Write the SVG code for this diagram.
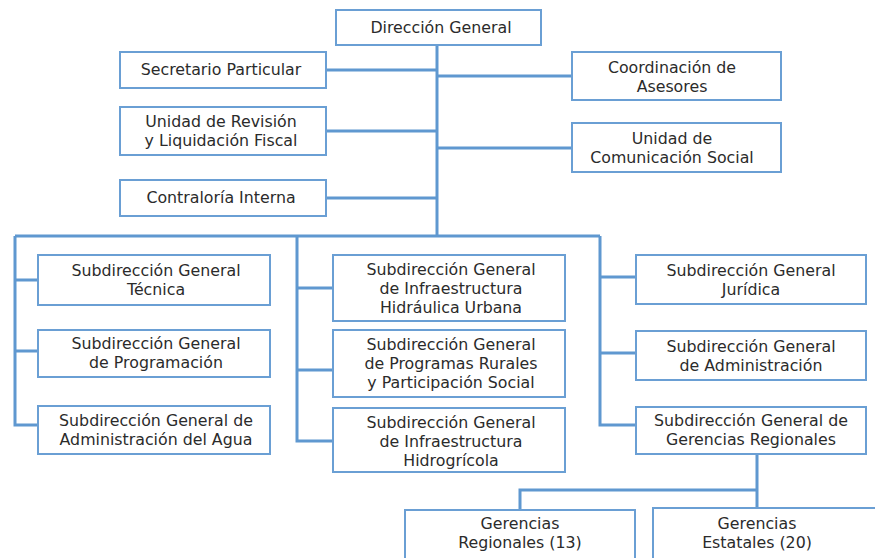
<svg xmlns="http://www.w3.org/2000/svg" width="875" height="558" viewBox="0 0 875 558">
  <style>
    .box { fill: #ffffff; stroke: #6a9fd4; stroke-width: 2; }
    .line { fill: none; stroke: #5f98d0; stroke-width: 3; }
    text { font-family: "DejaVu Sans", "Open Sans", sans-serif; font-size: 15.8px; fill: #2b2b2b; text-anchor: middle; }
  </style>
  <rect width="875" height="558" fill="#ffffff"/>

  <g id="connectors">
    <!-- main spine -->
    <path class="line" d="M437 45 V236"/>
    <path class="line" d="M326 70 H437 M326 131 H437 M326 198 H437"/>
    <path class="line" d="M437 76 H572 M437 148 H572"/>
    <!-- distribution bar -->
    <path class="line" d="M15 236 H600"/>
    <!-- left column -->
    <path class="line" d="M15 236 V425 H38 M15 280 H38 M15 351 H38"/>
    <!-- middle column -->
    <path class="line" d="M297 236 V441 H333 M297 288 H333 M297 370 H333"/>
    <!-- right column -->
    <path class="line" d="M600 236 V425 H636 M600 277 H636 M600 353 H636"/>
    <!-- regional offices -->
    <path class="line" d="M757 455 V508 M757 490 H520 V510"/>
  </g>

  <g id="direccion-general">
    <rect class="box" x="336" y="10" width="205" height="35"/>
    <text x="441" y="33">Dirección General</text>
  </g>

  <g id="secretario-particular">
    <rect class="box" x="120" y="52" width="206" height="36"/>
    <text x="221" y="75">Secretario Particular</text>
  </g>

  <g id="unidad-revision">
    <rect class="box" x="120" y="107" width="206" height="48"/>
    <text x="221" y="127">Unidad de Revisión</text>
    <text x="221" y="146">y Liquidación Fiscal</text>
  </g>

  <g id="contraloria-interna">
    <rect class="box" x="120" y="180" width="206" height="36"/>
    <text x="221" y="203">Contraloría Interna</text>
  </g>

  <g id="coordinacion-asesores">
    <rect class="box" x="572" y="52" width="209" height="48"/>
    <text x="672" y="73">Coordinación de</text>
    <text x="672" y="92">Asesores</text>
  </g>

  <g id="comunicacion-social">
    <rect class="box" x="572" y="123" width="209" height="49"/>
    <text x="672" y="144">Unidad de</text>
    <text x="672" y="163">Comunicación Social</text>
  </g>

  <g id="sg-tecnica">
    <rect class="box" x="38" y="255" width="232" height="50"/>
    <text x="156" y="276">Subdirección General</text>
    <text x="156" y="295">Técnica</text>
  </g>

  <g id="sg-programacion">
    <rect class="box" x="38" y="330" width="232" height="47"/>
    <text x="156" y="349">Subdirección General</text>
    <text x="156" y="368">de Programación</text>
  </g>

  <g id="sg-administracion-agua">
    <rect class="box" x="38" y="406" width="232" height="48"/>
    <text x="156" y="426">Subdirección General de</text>
    <text x="156" y="445">Administración del Agua</text>
  </g>

  <g id="sg-hidraulica-urbana">
    <rect class="box" x="333" y="255" width="232" height="66"/>
    <text x="451" y="275">Subdirección General</text>
    <text x="451" y="294">de Infraestructura</text>
    <text x="451" y="313">Hidráulica Urbana</text>
  </g>

  <g id="sg-programas-rurales">
    <rect class="box" x="333" y="330" width="232" height="67"/>
    <text x="451" y="350">Subdirección General</text>
    <text x="451" y="369">de Programas Rurales</text>
    <text x="451" y="388">y Participación Social</text>
  </g>

  <g id="sg-hidroagricola">
    <rect class="box" x="333" y="408" width="232" height="64"/>
    <text x="451" y="428">Subdirección General</text>
    <text x="451" y="447">de Infraestructura</text>
    <text x="451" y="466">Hidrogrícola</text>
  </g>

  <g id="sg-juridica">
    <rect class="box" x="636" y="255" width="230" height="49"/>
    <text x="751" y="276">Subdirección General</text>
    <text x="751" y="295">Jurídica</text>
  </g>

  <g id="sg-administracion">
    <rect class="box" x="636" y="331" width="230" height="49"/>
    <text x="751" y="352">Subdirección General</text>
    <text x="751" y="371">de Administración</text>
  </g>

  <g id="sg-gerencias-regionales">
    <rect class="box" x="636" y="407" width="230" height="47"/>
    <text x="751" y="426">Subdirección General de</text>
    <text x="751" y="445">Gerencias Regionales</text>
  </g>

  <g id="gerencias-regionales">
    <rect class="box" x="405" y="510" width="230" height="60"/>
    <text x="520" y="529">Gerencias</text>
    <text x="520" y="548">Regionales (13)</text>
  </g>

  <g id="gerencias-estatales">
    <rect class="box" x="653" y="508" width="230" height="60"/>
    <text x="757" y="529">Gerencias</text>
    <text x="757" y="548">Estatales (20)</text>
  </g>
</svg>
